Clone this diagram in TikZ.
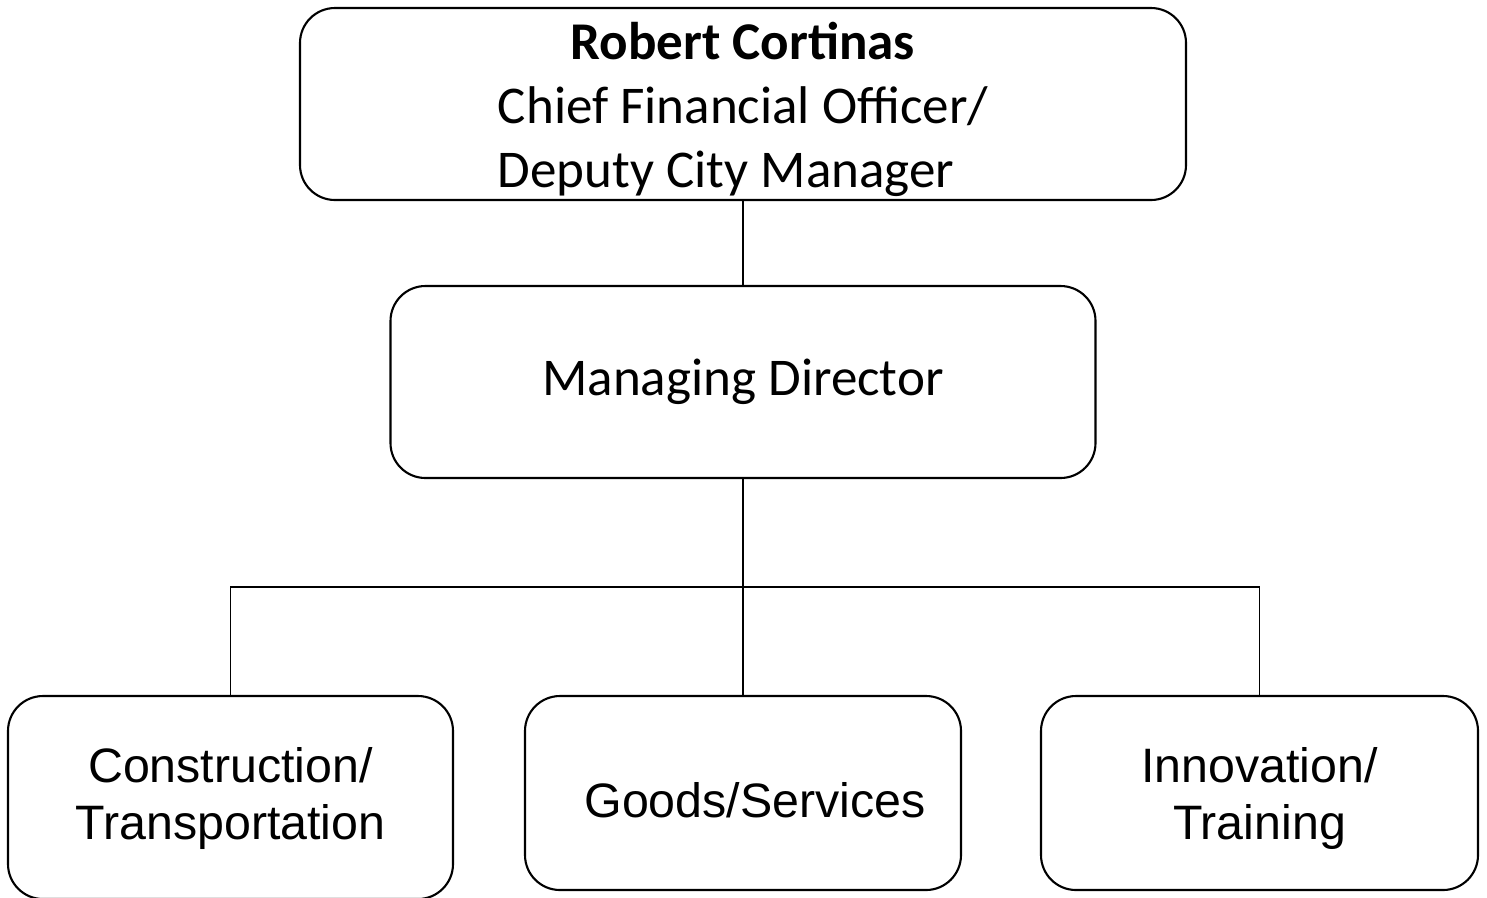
\documentclass[tikz,border=0pt]{standalone}
\usepackage{fontspec}
\setmainfont{Carlito}
\newfontfamily\arialfont{Liberation Sans}
\usetikzlibrary{positioning}
\newcommand{\dropby}[2]{\raisebox{-#1}[\height][\depth]{#2}}

\begin{document}
\begin{tikzpicture}[
    box/.style={draw=black,line width=0.6pt,rounded corners=0.35cm,inner sep=0pt},
    headbox/.style={box,font=\fontsize{15.1}{18.2}\selectfont},
    unitbox/.style={box,font=\arialfont\fontsize{13.75}{16.2}\selectfont},
    link/.style={line width=0.45pt}]
  \useasboundingbox (0,0) rectangle (14.87,-8.97);
  \node[headbox,minimum width=8.86cm,minimum height=1.92cm] (cfo) at (7.43,-1.04)
    {\dropby{0.07cm}{\begin{tabular}{@{}l@{}}\multicolumn{1}{@{}c@{}}{\bfseries Robert Cortinas}\\
     Chief Financial Officer/\\Deputy City Manager\end{tabular}}};
  \node[headbox,minimum width=7.05cm,minimum height=1.92cm] (mgr) at (7.43,-3.82) {Managing Director};
  \node[unitbox,minimum width=4.45cm,minimum height=2.03cm] (constr) at (2.305,-7.975)
    {\dropby{0.02cm}{\begin{tabular}{@{}c@{}}Construction/\\Transportation\end{tabular}}};
  \node[unitbox,minimum width=4.36cm,minimum height=1.94cm] (goods) at (7.43,-7.93)
    {\dropby{0.07cm}{\hspace*{0.24cm}Goods/Services}};
  \node[unitbox,minimum width=4.37cm,minimum height=1.94cm] (innov) at (12.595,-7.93)
    {\dropby{0.07cm}{\begin{tabular}{@{}c@{}}Innovation/\\Training\end{tabular}}};
  \coordinate (bus) at (0,-5.87);
  \draw[link] (cfo) -- (mgr);
  \draw[link] (mgr) -- (goods);
  \draw[link] (constr.north) -- (constr.north |- bus) -- (innov.north |- bus) -- (innov.north);
\end{tikzpicture}
\end{document}
